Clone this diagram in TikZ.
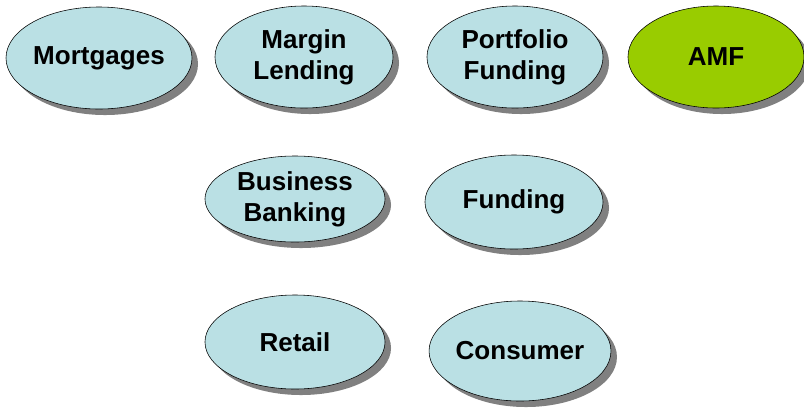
\documentclass[tikz,border=0pt]{standalone}
\usepackage{fontspec}
\setmainfont{Liberation Sans}
\usetikzlibrary{shapes.geometric,shadows}

\definecolor{unitblue}{RGB}{186,224,228}
\definecolor{unitgreen}{RGB}{153,204,0}

\begin{document}
\begin{tikzpicture}[x=0.025cm,y=-0.025cm,
    unit/.style={ellipse, draw=black, thin, fill=unitblue,
      minimum width=4.45cm, minimum height=2.55cm, inner sep=0pt,
      align=center, font=\fontsize{18.5}{22}\selectfont\bfseries,
      drop shadow={shadow xshift=0.15cm, shadow yshift=-0.15cm,
        fill=black!50, opacity=1}}
  ]
  \useasboundingbox (0,0) rectangle (804,410);

  % Top row
  \node[unit] (mortgages) at (99,58) {Mortgages};
  \node[unit] (margin) at (304,57) {Margin\\Lending};
  \node[unit, minimum width=4.4cm] (portfolio) at (515,57) {Portfolio\\Funding};
  \node[unit, minimum width=4.4cm, fill=unitgreen] (amf) at (716,57) {AMF};

  % Middle row
  \node[unit, minimum width=4.5cm, minimum height=2.15cm] (business) at (295,199) {Business\\Banking};
  \node[unit, minimum height=2.35cm] (funding) at (514,202) {Funding};

  % Bottom row
  \node[unit, minimum width=4.5cm, minimum height=2.35cm] (retail) at (295,342) {Retail};
  \node[unit, minimum width=4.4cm, minimum height=2.5cm] (consumer) at (520,351) {Consumer};

\end{tikzpicture}
\end{document}
